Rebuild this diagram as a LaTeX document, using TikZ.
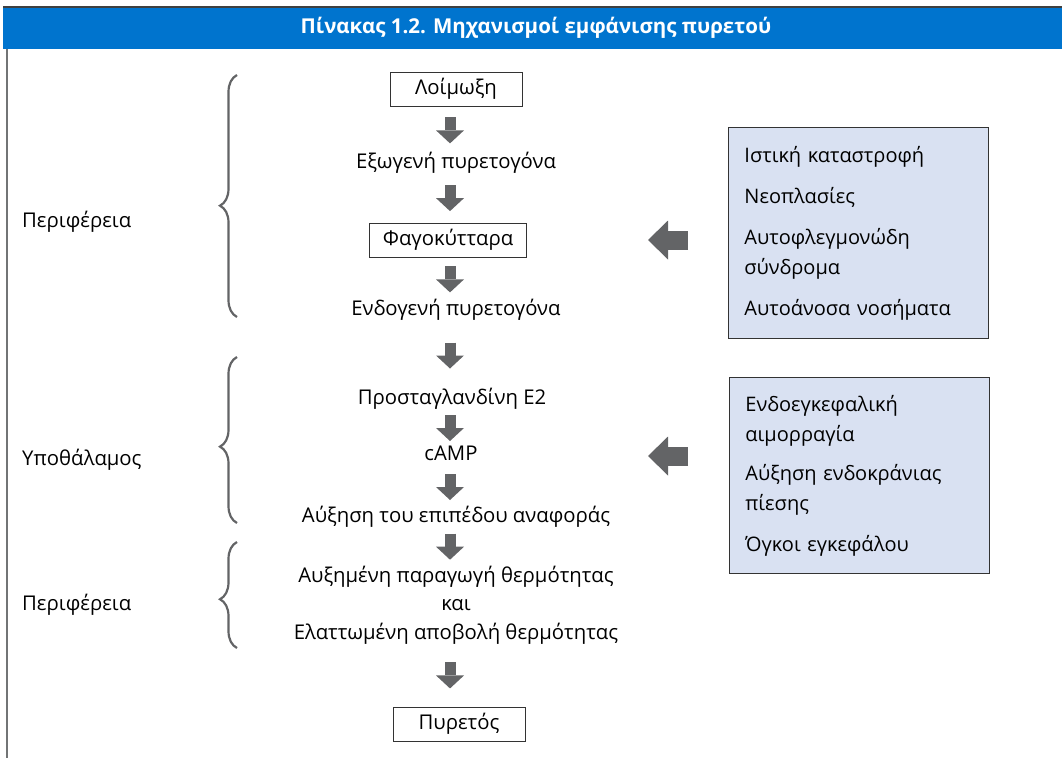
\documentclass[tikz,border=0pt]{standalone}
\usepackage{fontspec}
\setmainfont{Open Sans}
\newfontfamily\headfont{Open Sans}
\usepackage{xcolor}
\usepackage{tikz}
\usetikzlibrary{arrows.meta,calc,decorations.pathreplacing}
\definecolor{TabBlue}{RGB}{0,116,206}
\definecolor{TabGray}{RGB}{99,100,102}
\definecolor{TabLight}{RGB}{217,225,242}

\tikzset{
  boxed/.style={draw=black!80, line width=0.9pt, minimum height=34pt, inner sep=0pt},
  plain/.style={inner sep=0pt, text height=14pt, text depth=5pt, align=center},
  sidebox/.style={draw=black!80, line width=0.9pt, fill=TabLight, minimum width=260pt,
    text width=228pt, align=left, inner xsep=16pt, anchor=north west,
    font=\fontsize{20}{30}\selectfont},
  downarrow/.style={draw=TabGray, line width=11pt,
    -{Triangle[length=13pt 0 0, width=28pt 0 0, line width=0pt 0 0]}},
  leftarrow/.style={draw=TabGray, line width=19pt,
    -{Triangle[length=20pt 0 0, width=39pt 0 0, line width=0pt 0 0]}},
  bracegray/.style={draw=TabGray, line width=2.2pt, decorate,
    decoration={brace, amplitude=17pt, aspect=0.46}},
}

\begin{document}
\begin{tikzpicture}[x=1pt,y=1pt,font=\fontsize{20.3}{24}\selectfont]
  \useasboundingbox (0,0) rectangle (1062,-758);
  % header bar
  \fill[TabBlue] (3,-7) rectangle (1062,-49);
  \draw[black!75, line width=1.5pt] (3,-7) -- (1062,-7);
  \node[text=white, font=\headfont\bfseries\fontsize{20.5}{24}\selectfont] (title) at (536,-28)
    {Πίνακας 1.2. Μηχανισμοί εμφάνισης πυρετού};
  \draw[TabGray!90, line width=2pt] (7,-49) -- (7,-758);

  % main column
  \coordinate (col) at (450,0);
  \node[boxed, minimum width=132pt] (inf) at (456,-89) {Λοίμωξη};
  \node[plain] (exo) at (456,-164) {Εξωγενή πυρετογόνα};
  \node[boxed, minimum width=157pt] (phago) at (448,-240) {Φαγοκύτταρα};
  \node[plain] (endo) at (456,-311) {Ενδογενή πυρετογόνα};
  \node[plain] (pge) at (452,-400) {Προσταγλανδίνη Ε2};
  \node[plain] (camp) at (451,-456) {cAMP};
  \node[plain] (setp) at (456,-518) {Αύξηση του επιπέδου αναφοράς};
  \node[inner sep=0pt, align=center, font=\fontsize{20.3}{28.5}\selectfont] (heat) at (456,-605)
    {Αυξημένη παραγωγή θερμότητας\\και\\Ελαττωμένη αποβολή θερμότητας};
  \node[boxed, minimum width=132pt] (fever) at (459,-724) {Πυρετός};

  \foreach \a/\b in {inf/exo, exo/phago, phago/endo, endo/pge, pge/camp, camp/setp, setp/heat, heat/fever} {
    \path (\a.south) -- coordinate[midway] (m) (\b.north);
    \draw[downarrow] ($(m -| col)+(0,13)$) -- ($(m -| col)+(0,-13)$);
  }

  % side boxes
  \node[sidebox, minimum height=211pt] (causes) at (728,-127)
    {Ιστική καταστροφή\\[11pt]Νεοπλασίες\\[11pt]Αυτοφλεγμονώδη\\σύνδρομα\\[11pt]Αυτοάνοσα νοσήματα};
  \node[sidebox, minimum height=196pt] (brain) at (729,-377)
    {Ενδοεγκεφαλική\\αιμορραγία\\[9pt]Αύξηση ενδοκράνιας\\πίεσης\\[11pt]Όγκοι εγκεφάλου};
  \draw[leftarrow] ($(causes.west |- phago)+(-40,0)$) -- ($(causes.west |- phago)+(-80,0)$);
  \draw[leftarrow] ($(brain.west |- camp)+(-41,0)$) -- ($(brain.west |- camp)+(-81,0)$);

  % braces and regions
  \draw[bracegray] (237,-317) -- (237,-75);
  \draw[bracegray] (237,-523) -- (237,-357);
  \draw[bracegray] (237,-648) -- (237,-542);
  \node[anchor=west, inner sep=0pt] (per1) at (22,-222) {Περιφέρεια};
  \node[anchor=west, inner sep=0pt] (hypo) at (22,-460) {Υποθάλαμος};
  \node[anchor=west, inner sep=0pt] (per2) at (22,-605) {Περιφέρεια};
\end{tikzpicture}
\end{document}
